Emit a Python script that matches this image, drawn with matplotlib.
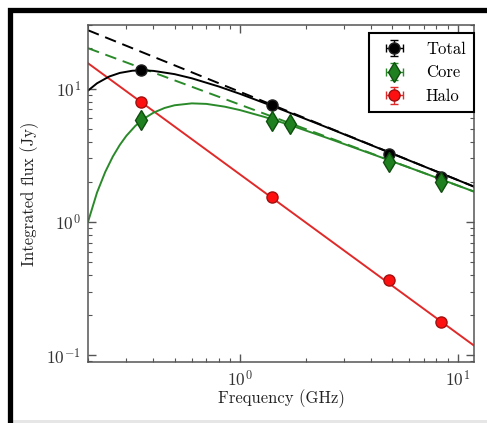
import matplotlib
matplotlib.use('Agg')
import matplotlib.pyplot as plt
from matplotlib.patches import Rectangle

plt.rcParams['font.family'] = ['cmr10', 'DejaVu Serif']
plt.rcParams['mathtext.fontset'] = 'cm'
plt.rcParams['axes.formatter.use_mathtext'] = True

# measured points (GHz, Jy)
total_freq = [0.35, 1.4, 4.85, 8.4]
total_flux = [13.7, 7.5, 3.22, 2.17]
total_err = [0.6, 0.3, 0.14, 0.09]
total_ferr = [0.01, 0.03, 0.1, 0.15]

core_freq = [0.35, 1.4, 1.7, 4.85, 8.4]
core_flux = [5.8, 5.7, 5.4, 2.8, 1.99]
core_err = [0.4, 0.3, 0.3, 0.15, 0.1]
core_ferr = [0.01, 0.03, 0.03, 0.1, 0.15]

halo_freq = [0.35, 1.4, 4.85, 8.4]
halo_flux = [7.9, 1.53, 0.366, 0.178]
halo_err = [0.4, 0.08, 0.02, 0.01]
halo_ferr = [0.01, 0.03, 0.1, 0.15]

# fitted curves
total_fit_freq = [0.2, 0.22, 0.25, 0.28, 0.32, 0.36, 0.4, 0.5, 0.6, 0.8, 1.0, 1.5, 2.5, 4.0, 7.0, 12.0]
total_fit_flux = [9.66, 10.96, 12.31, 13.11, 13.62, 13.72, 13.58, 12.84, 11.95, 10.36, 9.13, 7.12, 5.13, 3.77, 2.61, 1.83]

core_fit_freq = [0.2, 0.22, 0.24, 0.26, 0.28, 0.3, 0.33, 0.36, 0.4, 0.45, 0.5, 0.6, 0.7, 0.85, 1.0, 1.3, 1.7, 2.5, 4.0, 7.0, 12.0]
core_fit_flux = [1.0, 1.66, 2.37, 3.09, 3.78, 4.42, 5.25, 5.93, 6.60, 7.16, 7.50, 7.75, 7.68, 7.32, 6.90, 6.12, 5.32, 4.28, 3.25, 2.33, 1.68]

pl_freq = [0.2, 12.0]
total_pl = [27.4, 1.83]
core_pl = [20.1, 1.68]
halo_pl = [15.5, 0.117]

green = '#2a8a2a'
red = '#e02a2a'

fig = plt.figure(figsize=(4.87, 4.23), dpi=100)
ax = fig.add_axes([0.1807, 0.1442, 0.7926, 0.7967])

ax.plot(pl_freq, total_pl, '--', color='k', lw=1.4, dashes=(6, 3.5))
ax.plot(pl_freq, core_pl, '--', color=green, lw=1.4, dashes=(6, 3.5))
ax.plot(pl_freq, halo_pl, '-', color=red, lw=1.4)
ax.plot(total_fit_freq, total_fit_flux, '-', color='k', lw=1.4)
ax.plot(core_fit_freq, core_fit_flux, '-', color=green, lw=1.4)

ax.errorbar(total_freq, total_flux, yerr=total_err, xerr=total_ferr, fmt='o', color='k',
            ms=8, mec='#222222', capsize=3, elinewidth=1, label='Total', zorder=5)
ax.errorbar(core_freq, core_flux, yerr=core_err, xerr=core_ferr, fmt='d', color='#1f801f',
            ms=10, mec='#0f4f0f', ecolor=green, capsize=3, elinewidth=1, label='Core', zorder=5)
ax.errorbar(halo_freq, halo_flux, yerr=halo_err, xerr=halo_ferr, fmt='o', color='#ff1010',
            ms=8, mec='#a01010', ecolor=red, capsize=3, elinewidth=1, label='Halo', zorder=5)

ax.set_xscale('log')
ax.set_yscale('log')
ax.set_xlim(0.2, 11.9)
ax.set_ylim(0.089, 30)

ax.set_xlabel('Frequency (GHz)', fontsize=12, color='#222222', labelpad=0)
ax.set_ylabel('Integrated flux (Jy)', fontsize=12, color='#222222', labelpad=5)

ax.tick_params(which='both', direction='in', top=True, right=True, colors='#555555',
               labelcolor='#333333', labelsize=12.5)
ax.tick_params(which='major', length=6, width=1, pad=5)
ax.tick_params(which='minor', length=3, width=0.8)
for s in ax.spines.values():
    s.set_color('#555555')
    s.set_linewidth(1.1)

leg = ax.legend(loc='upper right', bbox_to_anchor=(1.0, 0.976), borderaxespad=0,
                numpoints=1, fontsize=12, fancybox=False, edgecolor='k', framealpha=1,
                borderpad=0.5, handletextpad=0.9)
leg.get_frame().set_linewidth(1.5)

# black frame around the figure
fig.patches.append(Rectangle((9.5 / 487, -0.2), 2, 1.2 - 10 / 423, transform=fig.transFigure,
                             fill=False, edgecolor='k', lw=3.8, zorder=10))
fig.patches.append(Rectangle((11.5 / 487, 0), 1, 3 / 423, transform=fig.transFigure,
                             facecolor='#e6e6e6', edgecolor='none', zorder=9))

fig.savefig('out.png', dpi=100)
